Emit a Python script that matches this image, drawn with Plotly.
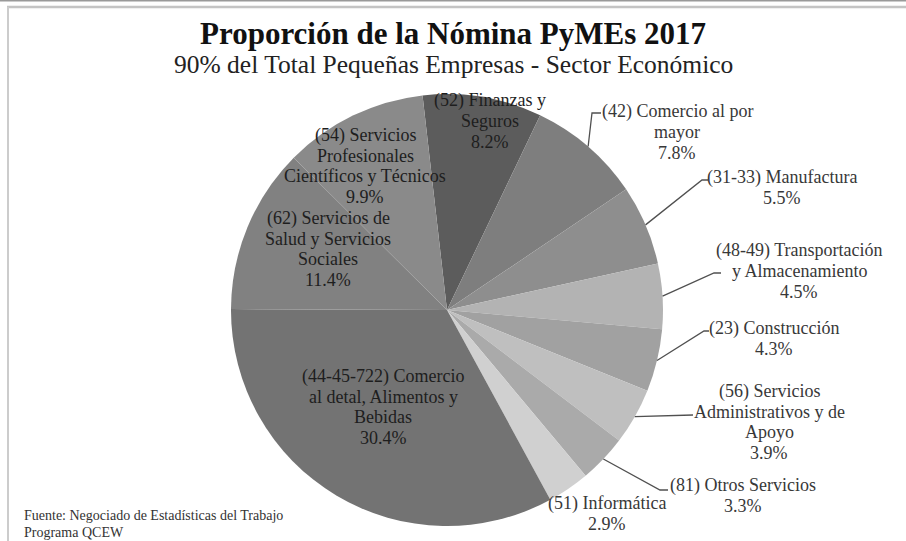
import math
import plotly.graph_objects as go

# ---------------- data ----------------
sectors = [
    "(52) Finanzas y<br>Seguros",
    "(42) Comercio al por<br>mayor",
    "(31-33) Manufactura",
    "(48-49) Transportación<br>y Almacenamiento",
    "(23) Construcción",
    "(56) Servicios<br>Administrativos y de<br>Apoyo",
    "(81) Otros Servicios",
    "(51) Informática",
    "(44-45-722) Comercio<br>al detal, Alimentos y<br>Bebidas",
    "(62) Servicios de<br>Salud y Servicios<br>Sociales",
    "(54) Servicios<br>Profesionales<br>Científicos y Técnicos",
]
shares = [8.2, 7.8, 5.5, 4.5, 4.3, 3.9, 3.3, 2.9, 30.4, 11.4, 9.9]
slice_colors = ["#5c5c5c", "#7e7e7e", "#8e8e8e", "#b3b3b3", "#a1a1a1",
                "#bfbfbf", "#aaaaaa", "#d0d0d0", "#737373", "#818181", "#8a8a8a"]

title_text = "<b>Proporción de la Nómina PyMEs 2017</b>"
subtitle_text = "90% del Total Pequeñas Empresas - Sector Económico"
source_lines = ["Fuente: Negociado de Estadísticas del Trabajo", "Programa QCEW"]

# ---------------- layout helpers ----------------
W, H = 906, 541
def px(x):
    return x / W
def py(y):
    return 1 - y / H

CX, CY, R = 447, 310, 216
ROT = -6.5
FONT = "Liberation Serif, Times New Roman, serif"
LS = 20.5  # line spacing of the slice labels (px)

fig = go.Figure()
fig.add_trace(go.Pie(
    values=shares,
    labels=[s.replace("<br>", " ") for s in sectors],
    sort=False,
    direction="clockwise",
    rotation=ROT,
    textinfo="none",
    hoverinfo="label+value",
    marker=dict(colors=slice_colors, line=dict(width=0)),
    domain=dict(x=[px(CX - R), px(CX + R)], y=[py(CY + R), py(CY - R)]),
    showlegend=False,
))

# label block centres (pixels) and leader elbows per slice
label_pos = [
    (490, 121, None), (677, 132, [(592, 113), (601, 113)]),
    (782, 188, [(702, 180), (708, 180)]), (799, 271, [(714, 273), (721, 273)]),
    (774, 339, [(704, 331), (709, 331)]), (769, 422, [(693, 415)]),
    (743, 496, [(660, 490), (668, 490)]), (607, 514, None),
    (383, 407, None), (328, 249, None), (365, 166, None),
]
inside = {0, 8, 9, 10}

annotations = []
shapes = []
total = sum(shares)
acc = 0.0
for i, (name, v) in enumerate(zip(sectors, shares)):
    mid = ROT + (acc + v / 2) / total * 360
    acc += v
    lx, ly, elbow = label_pos[i]
    lines = name.split("<br>") + [f"{v:.1f}%"]
    n = len(lines)
    for k, line in enumerate(lines):
        yk = ly + (k - (n - 1) / 2) * LS
        annotations.append(dict(
            x=px(lx), y=py(yk), xref="paper", yref="paper",
            text=line, showarrow=False,
            xanchor="center", yanchor="middle", align="center",
            font=dict(family=FONT, size=18,
                      color="#1e1e1e" if i in inside else "#383838"),
        ))
    if elbow:
        a = math.radians(mid)
        ex, ey = CX + R * math.sin(a), CY - R * math.cos(a)
        pts = [(ex, ey)] + elbow
        path = "M " + " L ".join(f"{px(x)},{py(y)}" for x, y in pts)
        shapes.append(dict(type="path", path=path, xref="paper", yref="paper",
                           line=dict(color="#505050", width=1.3)))

annotations += [
    dict(x=px(453), y=py(33), xref="paper", yref="paper", text=title_text,
         showarrow=False, xanchor="center", yanchor="middle",
         font=dict(family=FONT, size=31, color="#111111")),
    dict(x=px(453), y=py(64.5), xref="paper", yref="paper", text=subtitle_text,
         showarrow=False, xanchor="center", yanchor="middle",
         font=dict(family=FONT, size=25.5, color="#222222")),
]
for k, line in enumerate(source_lines):
    annotations.append(dict(
        x=px(22), y=py(515 + k * 17), xref="paper", yref="paper", text=line,
        showarrow=False, xanchor="left", yanchor="middle", align="left",
        font=dict(family=FONT, size=14, color="#333333")))

# frame
shapes += [
    dict(type="line", xref="paper", yref="paper", x0=0, x1=1, y0=py(0.75), y1=py(0.75),
         line=dict(color="#9a9a9a", width=1.5)),
    dict(type="line", xref="paper", yref="paper", x0=px(7), x1=1, y0=py(7), y1=py(7),
         line=dict(color="#c4c4c4", width=2.5)),
    dict(type="line", xref="paper", yref="paper", x0=px(8), x1=px(8), y0=py(7), y1=0,
         line=dict(color="#cccccc", width=2)),
]

fig.update_layout(
    width=W, height=H,
    margin=dict(l=0, r=0, t=0, b=0),
    paper_bgcolor="white", plot_bgcolor="white",
    annotations=annotations, shapes=shapes,
)
fig.write_html("out.html", config={"displayModeBar": False},
               post_script="document.body.style.margin='0';document.body.style.overflow='hidden';")
